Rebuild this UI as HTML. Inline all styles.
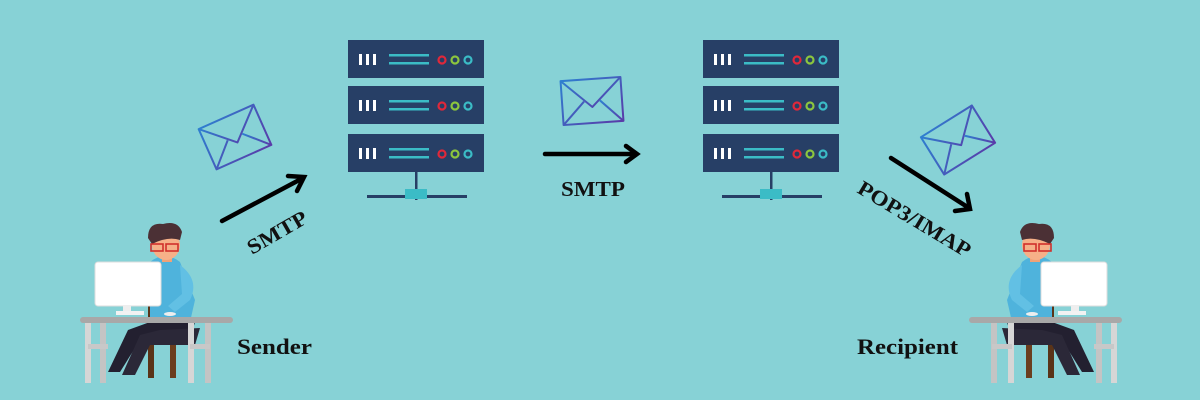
<!DOCTYPE html>
<html><head><meta charset="utf-8"><style>
html,body{margin:0;padding:0;background:#87d2d6;}
svg{display:block}
text{font-family:"Liberation Serif",serif;font-weight:bold;fill:#111;}
</style></head><body>
<svg width="1200" height="400" viewBox="0 0 1200 400" xmlns="http://www.w3.org/2000/svg">
<defs>
<linearGradient id="eg" x1="0" y1="0" x2="1" y2="1"><stop offset="0" stop-color="#2e7fd0"/><stop offset="1" stop-color="#5a3aa8"/></linearGradient>
<g id="row">
<rect x="0" y="0" width="136" height="38" fill="#273f66"/>
<rect x="11" y="14" width="3" height="11" fill="#fff"/><rect x="18" y="14" width="3" height="11" fill="#fff"/><rect x="25" y="14" width="3" height="11" fill="#fff"/>
<rect x="41" y="14" width="40" height="2.5" fill="#3bbcc6"/><rect x="41" y="22" width="40" height="2.5" fill="#3bbcc6"/>
<circle cx="94" cy="20" r="3.5" fill="none" stroke="#e0283a" stroke-width="2.2"/>
<circle cx="107" cy="20" r="3.5" fill="none" stroke="#8cc63e" stroke-width="2.2"/>
<circle cx="120" cy="20" r="3.5" fill="none" stroke="#3bbcc6" stroke-width="2.2"/>
</g>
<g id="server">
<use href="#row" y="0"/><use href="#row" y="46"/><use href="#row" y="94"/>
<rect x="67" y="132" width="2.5" height="28" fill="#273f66"/>
<rect x="19" y="155" width="100" height="3" fill="#273f66"/>
<rect x="57" y="149" width="22" height="10" fill="#3bbcc6"/>
</g>
<g id="env" fill="none" stroke="url(#eg)" stroke-width="2" stroke-linejoin="round">
<rect x="-30" y="-22" width="60" height="44"/>
<polyline points="-30,-22 0,6 30,-22"/>
<polyline points="-30,22 -8,0"/><polyline points="30,22 8,0"/>
</g>
<g id="person">
<rect x="148" y="300" width="6" height="78" fill="#5a3418"/>
<rect x="170" y="300" width="6" height="78" fill="#6b3e1e"/>
<rect x="150" y="335" width="26" height="6" fill="#6b3e1e"/>
<rect x="178" y="285" width="8" height="60" fill="#5a3418"/>
<path d="M150 322 L195 322 L190 340 L140 340 L120 372 L108 372 L128 330 Z" fill="#232030"/>
<path d="M160 330 L200 328 L195 345 L150 345 L135 375 L122 375 L140 335 Z" fill="#2b2838"/>
<path d="M150 262 Q165 250 180 262 L195 300 L190 322 L150 322 Z" fill="#4fb3dc"/>
<path d="M180 265 Q200 280 190 300 L175 312 L168 306 L182 294 Z" fill="#62c0e4"/>
<rect x="162" y="250" width="10" height="12" fill="#f0a278"/>
<ellipse cx="166" cy="245" rx="14" ry="15" fill="#f6b088"/>
<path d="M148 238 Q148 222 163 224 Q178 220 182 232 L180 240 Q168 236 152 244 Z" fill="#4b3035"/>
<rect x="151" y="244" width="12" height="7" fill="none" stroke="#d0302c" stroke-width="1.6"/>
<rect x="166" y="244" width="12" height="7" fill="none" stroke="#d0302c" stroke-width="1.6"/>
<rect x="95" y="262" width="66" height="44" rx="3" fill="#fff" stroke="#ddd"/>
<rect x="123" y="306" width="8" height="8" fill="#eee"/>
<rect x="116" y="311" width="28" height="4" fill="#f2f2f2"/>
<ellipse cx="170" cy="314" rx="6" ry="2" fill="#eee"/>
<rect x="80" y="317" width="153" height="6" rx="3" fill="#a8a8a8"/>
<rect x="85" y="323" width="6" height="60" fill="#d6d6d6"/>
<rect x="100" y="323" width="6" height="60" fill="#c4c4c4"/>
<rect x="188" y="323" width="6" height="60" fill="#d6d6d6"/>
<rect x="205" y="323" width="6" height="60" fill="#c4c4c4"/>
<rect x="88" y="344" width="20" height="5" fill="#c8c8c8"/>
<rect x="190" y="344" width="20" height="5" fill="#c8c8c8"/>
</g>
</defs>

<use href="#server" x="348" y="40"/>
<use href="#server" x="703" y="40"/>

<use href="#env" transform="translate(235,137) rotate(-24)"/>
<use href="#env" transform="translate(592,101) rotate(-4)"/>
<use href="#env" transform="translate(958,140) rotate(-32)"/>

<g stroke="#000" stroke-width="4.5" stroke-linecap="round" fill="none">
<line x1="222" y1="221" x2="303" y2="178"/>
<polyline points="288,176 304,177 297,191"/>
<line x1="545" y1="154" x2="636" y2="154"/>
<polyline points="626,146 637,154 626,162"/>
<line x1="891" y1="158" x2="969" y2="208"/>
<polyline points="967,194 970,209 955,211"/>
</g>

<text x="0" y="0" font-size="21" textLength="66" lengthAdjust="spacingAndGlyphs" transform="translate(252,255) rotate(-30)">SMTP</text>
<text x="561" y="196" font-size="21" textLength="64" lengthAdjust="spacingAndGlyphs">SMTP</text>
<text x="0" y="0" font-size="21" textLength="128" lengthAdjust="spacingAndGlyphs" transform="translate(856,192) rotate(31)">POP3/IMAP</text>
<text x="237" y="354" font-size="22" textLength="75" lengthAdjust="spacingAndGlyphs">Sender</text>
<text x="857" y="354" font-size="22" textLength="101" lengthAdjust="spacingAndGlyphs">Recipient</text>

<use href="#person"/>
<use href="#person" transform="translate(1202,0) scale(-1,1)"/>
</svg>
</body></html>
